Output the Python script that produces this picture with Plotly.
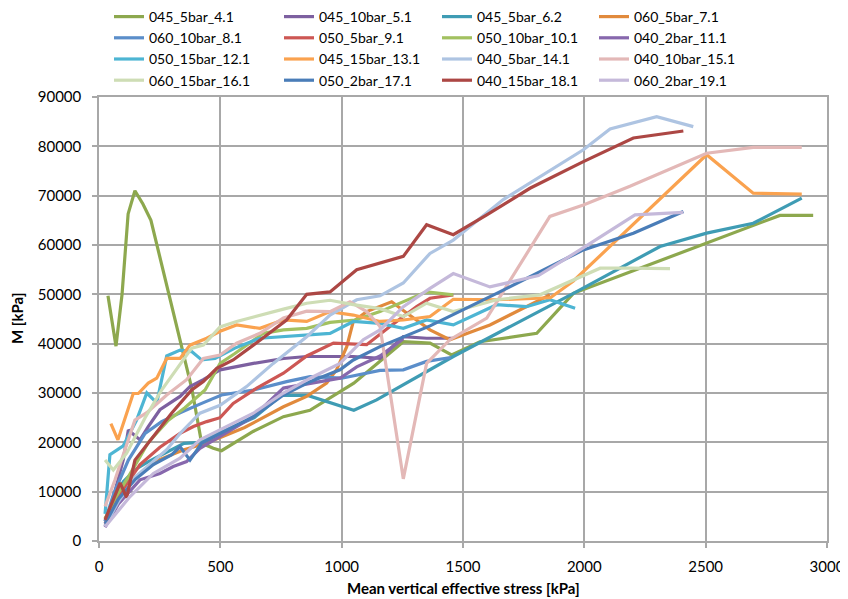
import plotly.graph_objects as go

# ---- data ----
names = ["045_5bar_4.1", "045_10bar_5.1", "045_5bar_6.2", "060_5bar_7.1",
         "060_10bar_8.1", "050_5bar_9.1", "050_10bar_10.1", "040_2bar_11.1",
         "050_15bar_12.1", "045_15bar_13.1", "040_5bar_14.1", "040_10bar_15.1",
         "060_15bar_16.1", "050_2bar_17.1", "040_15bar_18.1", "060_2bar_19.1"]

colors = ["#8DA84E", "#7D60A0", "#3F9CB4", "#E18A3C",
          "#5B8ECA", "#CD5754", "#A2C160", "#8768AD",
          "#4DB5D3", "#FAA24F", "#AEC4E2", "#E3B8B7",
          "#CEDDB5", "#4A7DB8", "#AC4744", "#C5B9DA"]

x_4_1 = [37, 70, 95, 120, 148, 181, 214, 258, 320, 382, 423, 471, 505, 635, 760, 869, 1050, 1254, 1364, 1453, 1570, 1804, 1955, 2284, 2504, 2696, 2806, 2943]
y_4_1 = [49700, 39500, 50000, 66300, 71000, 68300, 65000, 56000, 44000, 31000, 19800, 18800, 18300, 22200, 25200, 26500, 32000, 40400, 40100, 37700, 40400, 42100, 50200, 56300, 60400, 64100, 66000, 66000]

x_5_1 = [25, 60, 100, 121, 169, 203, 251, 293, 334, 375, 430, 499, 636, 760, 856, 1048, 1158, 1254, 1350, 1460]
y_5_1 = [3000, 9000, 16500, 22500, 20500, 23200, 26600, 27900, 29300, 31300, 32700, 34700, 36000, 37000, 37400, 37400, 37000, 41400, 41100, 41100]

x_6_2 = [25, 60, 100, 150, 200, 280, 350, 420, 500, 640, 750, 860, 1050, 1144, 1250, 1460, 1955, 2312, 2504, 2696, 2896]
y_6_2 = [4000, 8500, 12000, 14500, 16000, 18000, 19800, 20000, 22000, 25000, 29500, 29500, 26500, 28600, 31500, 37400, 50200, 59700, 62400, 64400, 69500]

x_7_1 = [25, 80, 150, 250, 350, 420, 500, 600, 760, 856, 938, 979, 1021, 1048, 1103, 1206, 1268, 1364, 1446, 1611, 1858]
y_7_1 = [4500, 9500, 13000, 16500, 18500, 19500, 21000, 23000, 27200, 29300, 32000, 34700, 39400, 44500, 46500, 48500, 46200, 42800, 40800, 43800, 49900]

x_8_1 = [25, 60, 121, 190, 258, 334, 423, 505, 636, 773, 870, 1000, 1158, 1254, 1350, 1450]
y_8_1 = [4000, 9500, 16400, 21800, 24200, 26000, 27900, 29600, 30600, 32300, 33300, 33000, 34600, 34700, 36400, 37200]

x_9_1 = [25, 70, 120, 169, 251, 334, 389, 444, 499, 553, 650, 760, 856, 966, 1103, 1199, 1309, 1364, 1460]
y_9_1 = [3500, 8000, 12000, 15500, 19000, 21800, 23200, 24200, 25000, 27900, 31000, 34000, 37500, 40100, 39800, 43500, 47500, 49200, 49900]

x_10_1 = [25, 70, 121, 203, 286, 354, 437, 499, 560, 677, 760, 856, 952, 1055, 1158, 1254, 1350, 1460]
y_10_1 = [4500, 9000, 13000, 20000, 24500, 27000, 30600, 36000, 38000, 42100, 42800, 43100, 44300, 44800, 46500, 48500, 50500, 49900]

x_11_1 = [25, 80, 169, 251, 306, 361, 416, 499, 636, 760, 870, 993, 1062, 1158, 1254]
y_11_1 = [2800, 7500, 12400, 13700, 15100, 16100, 18800, 21200, 25200, 31000, 32000, 33000, 35300, 37500, 41000]

x_12_1 = [25, 45, 100, 155, 197, 238, 279, 334, 382, 423, 478, 560, 663, 760, 856, 952, 1048, 1158, 1254, 1350, 1460, 1639, 1762, 1858, 1962]
y_12_1 = [5500, 17500, 19300, 24500, 30000, 28000, 37500, 38700, 38400, 36700, 37000, 39100, 41100, 41400, 41800, 42100, 44500, 44100, 43100, 44800, 43800, 47900, 47500, 48900, 47200]

x_13_1 = [49, 78, 141, 162, 203, 238, 279, 334, 375, 444, 499, 567, 663, 760, 856, 952, 1048, 1158, 1254, 1364, 1460, 1639, 1860, 1955, 2504, 2696, 2896]
y_13_1 = [23800, 20500, 29900, 29900, 32000, 33000, 37000, 37000, 39700, 41100, 42500, 43800, 43100, 44800, 44500, 46500, 45800, 44500, 44800, 45500, 49000, 48900, 49300, 52700, 78300, 70500, 70300]

x_14_1 = [25, 80, 150, 279, 334, 416, 499, 608, 718, 856, 952, 1062, 1158, 1254, 1364, 1460, 1666, 1996, 2106, 2298, 2449]
y_14_1 = [3000, 8000, 13000, 18500, 21800, 25900, 27500, 31300, 36000, 41400, 45800, 48900, 49700, 52300, 58300, 61000, 69200, 79300, 83500, 86000, 84000]

x_15_1 = [25, 66, 100, 148, 197, 279, 361, 430, 499, 567, 663, 760, 856, 952, 1034, 1103, 1158, 1254, 1350, 1446, 1598, 1858, 1996, 2188, 2504, 2696, 2896]
y_15_1 = [7000, 12400, 17500, 24500, 26000, 29600, 32700, 37000, 37700, 40100, 42100, 45200, 46600, 46500, 48500, 46500, 43500, 12600, 36000, 40800, 45200, 65800, 68100, 71900, 78600, 79800, 79800]

x_16_1 = [25, 59, 114, 190, 258, 327, 382, 430, 499, 567, 663, 760, 856, 952, 1048, 1158, 1254, 1350, 1460, 1639, 1817, 2065, 2188, 2353]
y_16_1 = [16400, 14400, 17800, 25000, 30600, 35400, 39100, 39700, 43400, 44500, 45800, 47000, 48200, 48800, 47900, 47100, 45500, 48200, 46500, 48900, 49900, 55300, 55300, 55200]

x_17_1 = [25, 80, 150, 224, 300, 334, 375, 423, 499, 636, 760, 870, 993, 1048, 1158, 1364, 1639, 1996, 2202, 2408]
y_17_1 = [3500, 8500, 12500, 15500, 17500, 19100, 16400, 19800, 21800, 25200, 29600, 32300, 34700, 36700, 39400, 43600, 50200, 59000, 62400, 66800]

x_18_1 = [25, 87, 114, 148, 224, 299, 382, 430, 485, 553, 636, 773, 856, 952, 1062, 1158, 1254, 1350, 1460, 1598, 1776, 1996, 2202, 2408]
y_18_1 = [4300, 11800, 8800, 16400, 21200, 25900, 30600, 32300, 35000, 36700, 39700, 44800, 50000, 50500, 55000, 56300, 57700, 64100, 62100, 66100, 71500, 76900, 81700, 83100]

x_19_1 = [25, 128, 224, 334, 416, 499, 636, 760, 870, 993, 1089, 1158, 1254, 1364, 1460, 1611, 1811, 1982, 2209, 2408]
y_19_1 = [2900, 9000, 13700, 16800, 20500, 22500, 25900, 30000, 33000, 36000, 40800, 42800, 47500, 51200, 54200, 51500, 53800, 59000, 66100, 66600]

xs = [x_4_1, x_5_1, x_6_2, x_7_1, x_8_1, x_9_1, x_10_1, x_11_1,
      x_12_1, x_13_1, x_14_1, x_15_1, x_16_1, x_17_1, x_18_1, x_19_1]
ys = [y_4_1, y_5_1, y_6_2, y_7_1, y_8_1, y_9_1, y_10_1, y_11_1,
      y_12_1, y_13_1, y_14_1, y_15_1, y_16_1, y_17_1, y_18_1, y_19_1]

x_ticks = [0, 500, 1000, 1500, 2000, 2500, 3000]
y_ticks = [0, 10000, 20000, 30000, 40000, 50000, 60000, 70000, 80000, 90000]

x_title = "Mean vertical effective stress [kPa]"
y_title = "M [kPa]"

FONT = "Lato, 'DejaVu Sans', sans-serif"
GRID = "#A8A8A8"

# The page body has an 8 px margin, so the figure is 8 px smaller than the window
W, H = 840, 591
ML, MR, MT, MB = 91, 21, 89, 58
PW, PH = W - ML - MR, H - MT - MB

fig = go.Figure()
legend_ids = ["legend", "legend2", "legend3", "legend4"]
for i, (nm, c, xv, yv) in enumerate(zip(names, colors, xs, ys)):
    fig.add_trace(go.Scatter(
        x=xv, y=yv, mode="lines", name=nm,
        line=dict(color=c, width=3.2),
        legend=legend_ids[i % 4],
    ))

col_left = [109, 279, 437, 594]   # page pixels of each legend column
leg_top_page = 1
leg_common = dict(
    xref="container", yref="paper", xanchor="left", yanchor="top",
    orientation="v", bgcolor="rgba(0,0,0,0)", borderwidth=0,
    font=dict(family=FONT, size=14, color="#000000"),
    tracegroupgap=0, itemwidth=30,
)
layout_legends = {}
for k, lid in enumerate(legend_ids):
    layout_legends[lid] = dict(
        x=(col_left[k] - 8) / W,
        y=1 + ((MT + 8) - leg_top_page) / PH,
        **leg_common)

fig.update_layout(
    width=W, height=H,
    margin=dict(l=ML, r=MR, t=MT, b=MB, autoexpand=False),
    paper_bgcolor="white", plot_bgcolor="white",
    font=dict(family=FONT, size=15, color="#000000"),
    showlegend=True,
    **layout_legends,
)

fig.update_xaxes(
    range=[0, 3000], tickvals=x_ticks, ticktext=[str(v) for v in x_ticks],
    showgrid=True, gridcolor=GRID, gridwidth=1.5,
    showline=True, linecolor=GRID, linewidth=1.5, mirror=True,
    ticks="outside", ticklen=5, tickcolor=GRID, tickwidth=1.5,
    zeroline=False, tickfont=dict(family=FONT, size=15),
    ticklabelstandoff=6, automargin=False,
)
fig.update_yaxes(
    range=[0, 90000], tickvals=y_ticks, ticktext=[str(v) for v in y_ticks],
    showgrid=True, gridcolor=GRID, gridwidth=1.5,
    showline=True, linecolor=GRID, linewidth=1.5, mirror=True,
    ticks="outside", ticklen=5, tickcolor=GRID, tickwidth=1.5,
    zeroline=False, tickfont=dict(family=FONT, size=15),
    ticklabelstandoff=8, automargin=False,
)

# axis titles as annotations (page pixel targets: x-title centre y=588, y-title centre x=17)
fig.add_annotation(
    text="<b>" + x_title + "</b>", xref="paper", yref="paper",
    x=0.5, y=-((588 - (MT + 8 + PH)) / PH), xanchor="center", yanchor="middle",
    showarrow=False, font=dict(family=FONT, size=15, color="#000000"),
)
fig.add_annotation(
    text="<b>" + y_title + "</b>", xref="paper", yref="paper",
    x=-((ML + 8 - 17) / PW), y=0.5, xanchor="center", yanchor="middle",
    textangle=-90, showarrow=False, font=dict(family=FONT, size=15, color="#000000"),
)

fig.write_html("out.html")
